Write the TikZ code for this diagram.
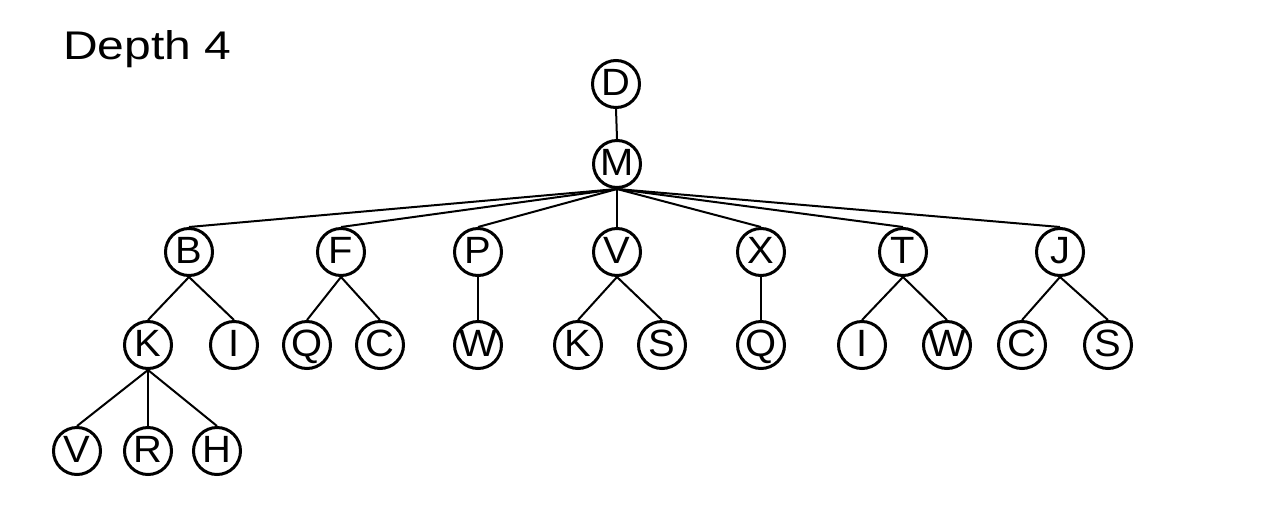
\documentclass[tikz,border=0pt]{standalone}
\usepackage{fontspec}
\setmainfont{Liberation Sans}
\newfontfamily\titlefont[FakeStretch=1.2]{Liberation Sans}
\newfontfamily\vertexfont[FakeStretch=1.05]{Liberation Sans}
% zero-width label so wide letters do not enlarge their circle
\newcommand{\vlabel}[1]{\makebox[0pt][c]{#1}}
\begin{document}
\begin{tikzpicture}[x=1pt,y=-1pt,
  vertex/.style={circle,draw,line width=3pt,minimum size=47pt,inner sep=0pt,
    text height=27pt,text depth=4pt,
    font=\vertexfont\fontsize{38}{38}\selectfont},
  edge/.style={line width=2pt}]
\useasboundingbox (0,0) rectangle (1273,512);
% title
\node[anchor=base west,inner sep=0pt,font=\titlefont\fontsize{40}{40}\selectfont] (title) at (63,59) {Depth 4};
% level 0 and 1
\node[vertex] (d) at (616,84) {\vlabel{D}};
\node[vertex] (m) at (617,164) {\vlabel{M}};
% level 2
\node[vertex] (b) at (189,252) {\vlabel{B}};
\node[vertex] (f) at (341,252) {\vlabel{F}};
\node[vertex] (p) at (478,252) {\vlabel{P}};
\node[vertex] (v) at (617,252) {\vlabel{V}};
\node[vertex] (x) at (761,252) {\vlabel{X}};
\node[vertex] (t) at (903,252) {\vlabel{T}};
\node[vertex] (j) at (1060,252) {\vlabel{J}};
% level 3
\node[vertex] (bk) at (148,345) {\vlabel{K}};
\node[vertex] (bi) at (234,345) {\vlabel{I}};
\node[vertex] (fq) at (307,345) {\vlabel{Q}};
\node[vertex] (fc) at (380,345) {\vlabel{C}};
\node[vertex] (pw) at (478,345) {\vlabel{W}};
\node[vertex] (vk) at (578,345) {\vlabel{K}};
\node[vertex] (vs) at (662,345) {\vlabel{S}};
\node[vertex] (xq) at (761,345) {\vlabel{Q}};
\node[vertex] (ti) at (862,345) {\vlabel{I}};
\node[vertex] (tw) at (947,345) {\vlabel{W}};
\node[vertex] (jc) at (1022,345) {\vlabel{C}};
\node[vertex] (js) at (1108,345) {\vlabel{S}};
% level 4
\node[vertex] (bkv) at (77,451) {\vlabel{V}};
\node[vertex] (bkr) at (148,451) {\vlabel{R}};
\node[vertex] (bkh) at (217,451) {\vlabel{H}};
% edges
\foreach \a/\b in {d/m, m/b, m/f, m/p, m/v, m/x, m/t, m/j,
  b/bk, b/bi, f/fq, f/fc, p/pw, v/vk, v/vs, x/xq, t/ti, t/tw, j/jc, j/js,
  bk/bkv, bk/bkr, bk/bkh}
  \draw[edge] (\a.south) -- (\b.north);
\end{tikzpicture}
\end{document}
